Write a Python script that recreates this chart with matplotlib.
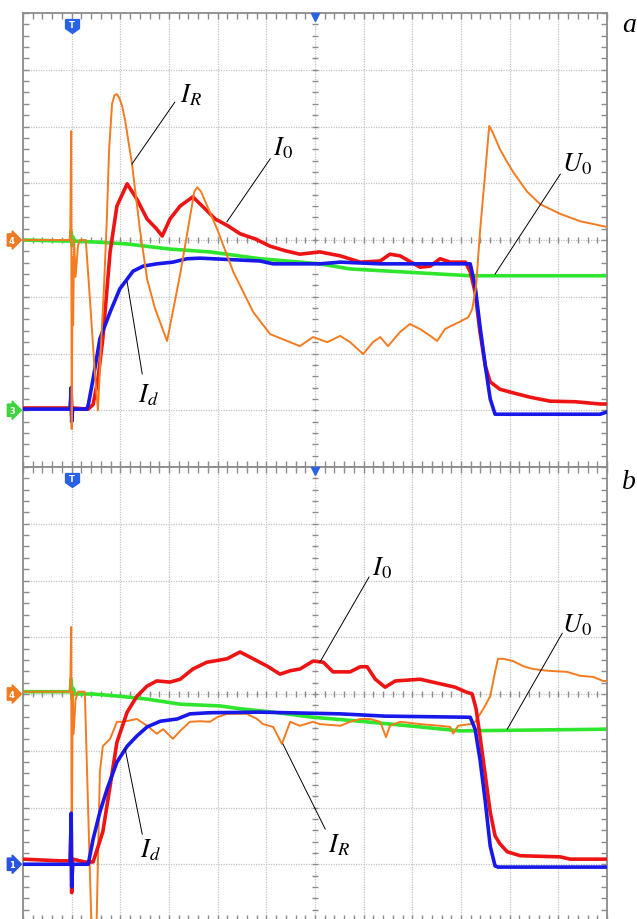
"""
Two-channel-set oscilloscope capture (panels a and b): I_R, I_0, I_d and U_0.
Values are in screen divisions: 12 horizontal, 8 vertical (+-4 around centre).
"""

import numpy as np
import matplotlib.pyplot as plt
from matplotlib.transforms import blended_transform_factory

plt.rcParams['mathtext.fontset'] = 'stix'

COLORS = {
    'ir': '#f47b20',   # orange, channel 4
    'i0': '#ee1414',   # red
    'id': '#1818ea',   # blue, channel 1
    'u0': '#2ee62e',   # green, channel 3
    'grid': '#c4c4c4',
    'frame': '#8c8c8c',
}

# ---------------- panel a ----------------
a_ir_t = [0, 0.97, 0.99, 1.00, 1.02, 1.03, 1.05, 1.08, 1.13, 1.17, 1.29, 1.38, 1.48, 1.54, 1.60, 1.66,
          1.72, 1.77, 1.83, 1.88, 1.93, 1.98, 2.04, 2.10, 2.24, 2.40, 2.55, 2.71, 2.96, 3.23, 3.52,
          3.58, 3.66, 3.99, 4.32, 4.73, 5.08, 5.69, 5.96, 6.25, 6.52, 6.72, 6.99, 7.19, 7.34, 7.50,
          7.75, 7.95, 8.16, 8.37, 8.51, 8.67, 8.78, 8.98, 9.15, 9.23, 9.31, 9.39, 9.48, 9.58, 9.66,
          9.80, 9.93, 10.07, 10.36, 10.63, 11.04, 11.45, 12.00]
a_ir_v = [0, 0, 1.92, -3.33, -0.3, -1.5, 0.0, -0.65, -0.1, 0, 0, -1.1, -2.4, -3.00, -1.9, -0.9,
          0.3, 1.6, 2.4, 2.55, 2.57, 2.50, 2.35, 2.1, 1.34, 0.2, -0.69, -1.2, -1.78, -0.6, 0.85,
          0.93, 0.85, 0.19, -0.56, -1.27, -1.66, -1.87, -1.71, -1.80, -1.69, -1.80, -2.01, -1.80,
          -1.71, -1.87, -1.62, -1.48, -1.57, -1.69, -1.78, -1.57, -1.52, -1.44, -1.36, -1.22, -0.81,
          0.14, 1.02, 2.01, 1.88, 1.60, 1.40, 1.20, 0.85, 0.63, 0.46, 0.33, 0.23]

a_i0_t = [0, 0.97, 0.99, 1.00, 1.02, 1.34, 1.44, 1.54, 1.64, 1.79, 1.93, 2.14, 2.34, 2.55, 2.75, 2.86,
          3.02, 3.23, 3.49, 3.74, 3.95, 4.21, 4.46, 4.77, 5.08, 5.39, 5.69, 6.10, 6.52, 6.93, 7.34, 7.54,
          7.75, 8.16, 8.37, 8.57, 8.78, 9.09, 9.19, 9.29, 9.39, 9.50, 9.60, 9.80, 10.01, 10.42, 10.83,
          11.35, 11.86, 12.00]
a_i0_v = [-2.96, -2.96, -2.7, -3.1, -2.96, -2.98, -2.9, -2.45, -1.74, -0.21, 0.60, 0.99, 0.72, 0.37,
          0.19, 0.07, 0.37, 0.60, 0.76, 0.55, 0.37, 0.25, 0.11, 0.02, -0.11, -0.19, -0.25, -0.21, -0.28,
          -0.39, -0.37, -0.25, -0.28, -0.48, -0.46, -0.33, -0.39, -0.39, -0.56, -0.92, -1.62, -2.22,
          -2.50, -2.63, -2.68, -2.77, -2.84, -2.85, -2.89, -2.89]

a_id_t = [0, 0.97, 0.99, 1.00, 1.02, 1.31, 1.34, 1.44, 1.58, 1.79, 1.99, 2.14, 2.26, 2.47, 2.75, 3.08,
          3.37, 3.64, 4.87, 5.14, 6.10, 6.52, 7.34, 8.16, 9.19, 9.29, 9.39, 9.50, 9.60, 9.70, 11.86, 12.00]
a_id_v = [-2.98, -2.98, -2.6, -3.2, -2.98, -2.98, -2.91, -2.45, -1.74, -1.27, -0.86, -0.69, -0.55, -0.46,
          -0.42, -0.39, -0.33, -0.32, -0.37, -0.42, -0.42, -0.39, -0.42, -0.42, -0.42, -0.81, -1.52,
          -2.22, -2.80, -3.07, -3.07, -3.03]

a_u0_t = [0, 0.97, 0.99, 1.01, 1.03, 1.07, 1.58, 2.14, 3.02, 3.84, 4.87, 5.69, 6.10, 6.72, 7.75, 8.57,
          9.19, 12.00]
a_u0_v = [0, -0.02, 0.16, -0.1, 0.05, -0.02, -0.04, -0.07, -0.16, -0.21, -0.33, -0.39, -0.42, -0.51,
          -0.56, -0.60, -0.63, -0.63]

# ---------------- panel b ----------------
b_ir_t = [0, 0.97, 0.99, 1.00, 1.02, 1.04, 1.08, 1.13, 1.27, 1.42, 1.50, 1.58, 1.64, 1.79, 1.93, 2.06,
          2.34, 2.55, 2.75, 2.88, 3.08, 3.23, 3.43, 3.64, 3.84, 3.99, 4.19, 4.60, 4.81, 4.93, 5.14, 5.32,
          5.49, 5.69, 5.96, 6.10, 6.52, 6.72, 6.93, 7.13, 7.34, 7.46, 7.54, 7.75, 8.16, 8.57, 8.78, 8.84,
          8.94, 9.19, 9.29, 9.46, 9.60, 9.70, 9.76, 9.87, 10.07, 10.28, 10.48, 10.77, 11.18, 11.45,
          11.72, 11.92, 12.00]
b_ir_v = [0.04, 0.04, 1.18, -3.4, 0.04, -0.7, -0.1, 0.04, 0.04, -4.5, -4.5, -1.37, -0.92, -0.79, -0.49,
          -0.49, -0.44, -0.56, -0.70, -0.62, -0.79, -0.65, -0.49, -0.48, -0.49, -0.41, -0.35, -0.35,
          -0.44, -0.53, -0.58, -0.88, -0.49, -0.56, -0.49, -0.53, -0.56, -0.49, -0.44, -0.44, -0.49,
          -0.76, -0.56, -0.49, -0.53, -0.56, -0.58, -0.70, -0.56, -0.53, -0.49, -0.26, -0.04, 0.39,
          0.62, 0.62, 0.58, 0.49, 0.44, 0.41, 0.39, 0.32, 0.30, 0.23, 0.23]

b_i0_t = [0, 0.76, 0.97, 0.99, 1.00, 1.02, 1.27, 1.44, 1.64, 1.79, 1.93, 2.14, 2.34, 2.55, 2.75, 3.02,
          3.23, 3.49, 3.78, 4.19, 4.46, 4.73, 5.02, 5.28, 5.49, 5.69, 5.96, 6.17, 6.37, 6.72, 6.93, 7.07,
          7.24, 7.44, 7.65, 8.16, 8.57, 8.88, 9.09, 9.23, 9.31, 9.39, 9.50, 9.60, 9.70, 9.80, 9.95,
          10.22, 11.04, 11.24, 12.00]
b_i0_v = [-2.91, -2.94, -2.94, -2.2, -3.5, -2.91, -2.96, -2.96, -2.43, -1.62, -0.85, -0.32, -0.04, 0.14,
          0.23, 0.21, 0.26, 0.44, 0.56, 0.62, 0.74, 0.62, 0.49, 0.35, 0.41, 0.44, 0.58, 0.56, 0.39,
          0.39, 0.48, 0.48, 0.26, 0.12, 0.23, 0.26, 0.18, 0.12, 0.04, 0.0, -0.26, -0.74, -1.44, -2.08,
          -2.50, -2.64, -2.78, -2.85, -2.87, -2.91, -2.91]

b_id_t = [0, 0.97, 0.99, 1.00, 1.02, 1.34, 1.44, 1.58, 1.73, 1.93, 2.14, 2.34, 2.55, 2.82, 3.17, 3.43,
          3.84, 4.87, 6.52, 7.44, 9.19, 9.29, 9.39, 9.50, 9.60, 9.70, 9.76, 12.00]
b_id_v = [-3.0, -3.0, -2.1, -3.4, -3.0, -3.0, -2.56, -2.08, -1.67, -1.20, -0.92, -0.74, -0.58, -0.48,
          -0.44, -0.35, -0.33, -0.32, -0.35, -0.39, -0.41, -0.62, -1.15, -1.90, -2.68, -3.03, -3.05,
          -3.05]

b_u0_t = [0, 0.97, 0.99, 1.01, 1.03, 1.07, 1.44, 1.99, 2.55, 3.23, 4.05, 4.46, 5.14, 5.96, 6.93, 8.16,
          8.98, 12.00]
b_u0_v = [0.04, 0.04, 0.26, -0.1, 0.1, 0.0, 0.0, -0.04, -0.09, -0.18, -0.21, -0.26, -0.32, -0.41,
          -0.48, -0.58, -0.65, -0.62]

TRIGGER_T = 1.0
CENTER_T = 6.0

# shield-shaped trigger flag
T_FLAG = [(-0.5, 0.5), (0.5, 0.5), (0.5, -0.15), (0.0, -0.5), (-0.5, -0.15), (-0.5, 0.5)]


def draw_screen(ax):
    """Graticule: frame with minor ticks, dotted grid, ticked centre lines."""
    ax.set_xlim(0, 12)
    ax.set_ylim(-4, 4)
    ax.set_xticks(np.arange(0, 12.01, 0.2))
    ax.set_yticks(np.arange(-4, 4.01, 0.2))
    ax.tick_params(direction='in', length=4, width=1, color=COLORS['frame'],
                   top=True, right=True, labelbottom=False, labelleft=False)
    for s in ax.spines.values():
        s.set_color(COLORS['frame'])
        s.set_linewidth(1.3)

    for x in range(1, 12):
        ax.axvline(x, color=COLORS['grid'], lw=0.9, ls=(0, (1, 1)), zorder=0)
    for y in range(-3, 4):
        ax.axhline(y, color=COLORS['grid'], lw=0.9, ls=(0, (1, 1)), zorder=0)

    xs = np.arange(0, 12.01, 0.2)
    ys = np.arange(-4, 4.01, 0.2)
    ax.plot(xs, np.zeros_like(xs), ls='none', marker='|', ms=5, mew=1,
            color=COLORS['frame'], zorder=0.5)
    ax.plot(np.full_like(ys, CENTER_T), ys, ls='none', marker='_', ms=5, mew=1,
            color=COLORS['frame'], zorder=0.5)


def draw_markers(ax, channels):
    """Channel level tags on the left, trigger flag and position arrow on top."""
    trans_y = blended_transform_factory(ax.transAxes, ax.transData)
    for label, level, color in channels:
        ax.text(-0.019, level, label, transform=trans_y, ha='center', va='center',
                fontsize=6, color='white', fontweight='bold', clip_on=False,
                bbox=dict(boxstyle='rarrow,pad=0.2', fc=color, ec=color))

    trans_x = blended_transform_factory(ax.transData, ax.transAxes)
    ax.plot([TRIGGER_T], [0.9705], transform=trans_x, marker=T_FLAG, ms=10,
            color='#2a62e6', clip_on=False, zorder=6)
    ax.text(TRIGGER_T, 0.974, 'T', transform=trans_x, ha='center', va='center',
            fontsize=6, color='white', fontweight='bold', zorder=7)
    ax.plot([CENTER_T], [0.992], transform=trans_x, marker='v', ms=6,
            color='#2a62e6', clip_on=False, zorder=6)


def draw_traces(ax, traces):
    for t, v, key, lw, z in traces:
        ax.plot(t, v, color=COLORS[key], lw=lw, zorder=z, solid_joinstyle='round')


def label(ax, text, pos, line):
    ax.text(pos[0], pos[1], text, fontsize=19, ha='left', va='baseline', zorder=8)
    ax.plot([line[0], line[2]], [line[1], line[3]], color='black', lw=0.7, zorder=8)


fig = plt.figure(figsize=(6.37, 9.20), dpi=100)
ax_a = fig.add_axes([23 / 637, 1 - 468 / 920, 584 / 637, 454 / 920])
ax_b = fig.add_axes([23 / 637, 1 - 922 / 920, 584 / 637, 454 / 920])

for ax in (ax_a, ax_b):
    draw_screen(ax)

draw_traces(ax_a, [
    (a_u0_t, a_u0_v, 'u0', 2.6, 2),
    (a_i0_t, a_i0_v, 'i0', 2.6, 3),
    (a_id_t, a_id_v, 'id', 2.6, 4),
    (a_ir_t, a_ir_v, 'ir', 1.4, 5),
])
draw_traces(ax_b, [
    (b_u0_t, b_u0_v, 'u0', 2.6, 2),
    (b_ir_t, b_ir_v, 'ir', 1.4, 3),
    (b_i0_t, b_i0_v, 'i0', 2.6, 4),
    (b_id_t, b_id_v, 'id', 2.6, 5),
])

draw_markers(ax_a, [('4', 0.0, '#f07a22'), ('3', -3.0, '#3ed43e')])
draw_markers(ax_b, [('4', 0.0, '#f07a22'), ('1', -3.0, '#2a52e0')])

label(ax_a, r'$I_R$', (3.23, 2.45), (3.12, 2.43, 2.24, 1.34))
label(ax_a, r'$I_0$', (5.14, 1.50), (5.08, 1.43, 4.19, 0.32))
label(ax_a, r'$U_0$', (11.08, 1.22), (11.04, 1.16, 9.70, -0.60))
label(ax_a, r'$I_d$', (2.36, -2.85), (2.45, -2.36, 2.14, -0.74))

label(ax_b, r'$I_0$', (7.17, 2.11), (7.11, 2.06, 6.10, 0.56))
label(ax_b, r'$U_0$', (11.08, 1.11), (11.08, 1.07, 9.95, -0.62))
label(ax_b, r'$I_d$', (2.40, -2.87), (2.45, -2.47, 2.10, -0.97))
label(ax_b, r'$I_R$', (6.27, -2.78), (6.21, -2.38, 5.34, -0.88))

fig.text(622 / 637, 1 - 32 / 920, 'a', fontsize=20, style='italic',
         family='Liberation Serif', ha='left', va='baseline')
fig.text(622 / 637, 1 - 489 / 920, 'b', fontsize=20, style='italic',
         family='Liberation Serif', ha='left', va='baseline')

fig.savefig('out.png', dpi=100, facecolor='white')
